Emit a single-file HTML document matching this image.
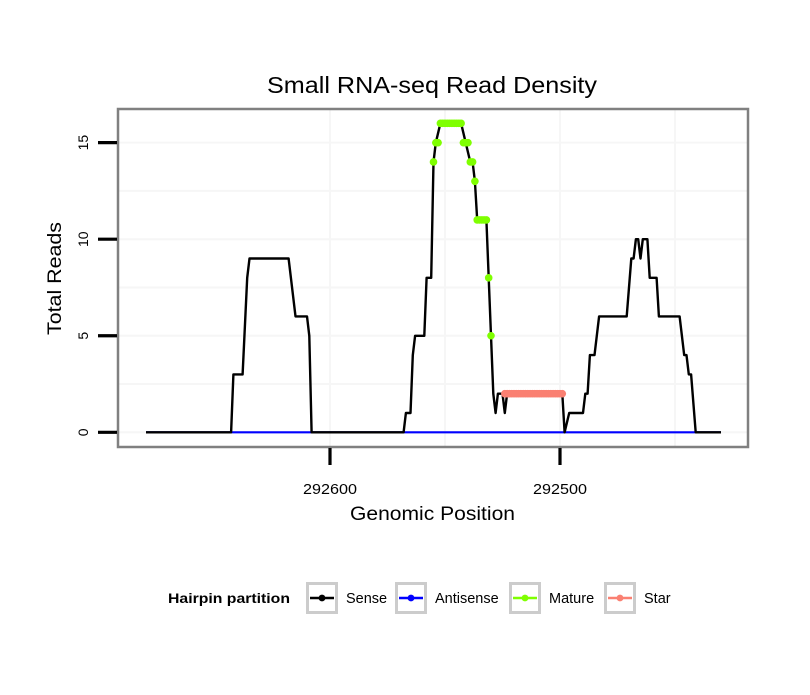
<!DOCTYPE html>
<html><head><meta charset="utf-8"><style>
body{margin:0;background:#fff;}
svg text{font-family:"Liberation Sans",sans-serif;}
</style></head><body>
<svg id="chart" width="810" height="690" xmlns="http://www.w3.org/2000/svg">
<rect width="810" height="690" fill="#fff"/>
<text x="267" y="93" textLength="330" lengthAdjust="spacingAndGlyphs" font-size="23">Small RNA-seq Read Density</text>
<g id="grid"></g>
<g id="series"></g>
<rect x="118" y="109" width="630" height="338" fill="none" stroke="#808080" stroke-width="2.5"/>
<g id="axes"></g>
<text x="350" y="520" textLength="165" lengthAdjust="spacingAndGlyphs" font-size="19">Genomic Position</text>
<text transform="translate(61,335) rotate(-90)" textLength="113" lengthAdjust="spacingAndGlyphs" font-size="19">Total Reads</text>
<g>
<text x="168" y="603" textLength="122" lengthAdjust="spacingAndGlyphs" font-size="14" font-weight="bold">Hairpin partition</text>
<g id="legend"></g>
</g>
</svg>
<script>
const sensePos=[292680,292643,292642,292638,292636,292635,292618,292615,292610,292609,292608,292568,292567,292565,292564,292563,292559,292558,292556,292555,292554,292552,292543,292541,292539,292538,292537,292536,292532,292531,292530,292529,292528,292527,292525,292524,292523,292499,292498,292496,292490,292489,292488,292487,292485,292483,292471,292469,292468,292467,292466,292465,292464,292462,292461,292458,292457,292448,292446,292445,292444,292443,292441,292430];
const senseVal=[0,0,3,3,8,9,9,6,6,5,0,0,1,1,4,5,5,8,8,14,15,16,16,15,14,14,13,11,11,8,5,2,1,2,2,1,2,2,0,1,1,2,2,4,4,6,6,9,9,10,10,9,10,10,8,8,6,6,4,4,3,3,0,0];
const antiPos=[292680,292430];
const antiVal=[0,0];
const maturePos=[292555,292554,292553,292552,292551,292550,292549,292548,292547,292546,292545,292544,292543,292542,292541,292540,292539,292538,292537,292536,292535,292534,292533,292532,292531,292530];
const matureVal=[14,15,15,16,16,16,16,16,16,16,16,16,16,15,15,15,14,14,13,11,11,11,11,11,8,5];
const starPos=[];const starVal=[];
for(let p=292524;p>=292499;p--){starPos.push(p);starVal.push(2);}
const yTicks=[0,5,10,15];
const xTicks=[292600,292500];
const xMinor=[292550,292450];
const yMinor=[2.5,7.5,12.5];

const X=p=>330+(292600-p)*2.3;
const Y=v=>432.3-v*19.31;
const NS="http://www.w3.org/2000/svg";
function mk(tag,parent,attrs){const e=document.createElementNS(NS,tag);for(const k in attrs)e.setAttribute(k,attrs[k]);document.getElementById(parent).appendChild(e);return e;}

yMinor.concat(yTicks).forEach(v=>{const l=mk('line','grid',{x1:119,x2:747,y1:Y(v),y2:Y(v),stroke:'#f6f6f6','stroke-width':2});

});
xMinor.concat(xTicks).forEach(p=>{const l=mk('line','grid',{x1:X(p),x2:X(p),y1:110,y2:446,stroke:'#f6f6f6','stroke-width':2});

});

function line(pos,val,color,name,w){const d=pos.map((p,i)=>(i?'L':'M')+X(p).toFixed(1)+','+Y(val[i]).toFixed(1)).join('');
const e=mk('path','series',{d:d,fill:'none',stroke:color,'stroke-width':w,'stroke-linejoin':'round'});

}
function pts(pos,val,color,name){pos.forEach((p,i)=>{const c=mk('circle','series',{cx:X(p),cy:Y(val[i]),r:3.8,fill:color});

});}
line(antiPos,antiVal,'#0000ff','antisense-line',2.2);
line(sensePos,senseVal,'#000','sense-line',2.4);
pts(maturePos,matureVal,'#7fff00','mature-point');
line(starPos,starVal,'#fa8072','star-line',2.4);
pts(starPos,starVal,'#fa8072','star-point');

yTicks.forEach(v=>{const t=mk('line','axes',{x1:98,x2:117,y1:Y(v),y2:Y(v),stroke:'#000','stroke-width':3.2});


const tx=mk('text','axes',{transform:`translate(88,${Y(v)}) rotate(-90)`,'text-anchor':'middle','font-size':14});tx.textContent=v;

});
xTicks.forEach(p=>{const t=mk('line','axes',{x1:X(p),x2:X(p),y1:448,y2:465,stroke:'#000','stroke-width':3.2});


const tx=mk('text','axes',{x:X(p)-27,y:494,textLength:54,lengthAdjust:'spacingAndGlyphs','font-size':14.5});tx.textContent=p;

});

const legNames=['Sense','Antisense','Mature','Star'];
const legColors=['#000','#0000ff','#7fff00','#fa8072'];
const legX=[306,395,509,604];
legNames.forEach((n,i)=>{const x=legX[i];
const b=mk('rect','legend',{x:x+1.5,y:583.5,width:29,height:29,fill:'#fff',stroke:'#cccccc','stroke-width':3});


mk('line','legend',{x1:x+4,x2:x+28,y1:598,y2:598,stroke:legColors[i],'stroke-width':2.4});
mk('circle','legend',{cx:x+16,cy:598,r:3.4,fill:legColors[i]});
const t=mk('text','legend',{x:x+40,y:603,'font-size':14.5});t.textContent=n;

});
</script>
</body></html>
